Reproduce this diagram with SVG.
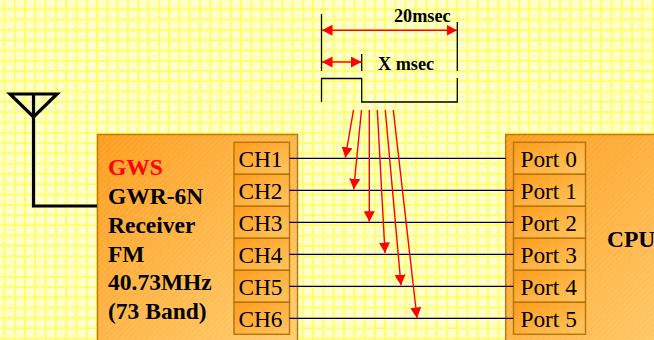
<svg xmlns="http://www.w3.org/2000/svg" width="654" height="340" viewBox="0 0 654 340">
<style>
.box{stroke:#b8780f;stroke-width:1.5}
.bold{font-family:"Liberation Serif",serif;font-weight:bold;fill:#000}
.m{font-size:23.5px}
.t{font-size:18.2px}
.cell{font-family:"Liberation Serif",serif;font-size:23.3px;fill:#000}
.wire{stroke:#000;stroke-width:1.2;fill:none}
.ant{stroke:#000;stroke-width:3.2;fill:none}
.tim{stroke:#000;stroke-width:1.3;fill:none}
.red{stroke:#f00;stroke-width:1.4;fill:none}
</style>
<defs>
<pattern id="grid" x="4.4" y="9.3" width="10.29" height="10.29" patternUnits="userSpaceOnUse">
<rect x="-1" y="-1" width="12" height="12" fill="#ffffcc"/>
<path d="M0 0V10.29M10.29 0V10.29M0 0H10.29M0 10.29H10.29" stroke="#ffff66" stroke-width="1.9" fill="none"/>
</pattern>
<linearGradient id="big" x1="0" y1="0" x2="1" y2="1">
<stop offset="0" stop-color="#ff9c1c"/><stop offset="1" stop-color="#ffcf70"/>
</linearGradient>
<linearGradient id="small" x1="0" y1="0" x2="1" y2="1">
<stop offset="0" stop-color="#ff9c1c"/><stop offset="1" stop-color="#ffc660"/>
</linearGradient>
<pattern id="hatch" width="4" height="4" patternUnits="userSpaceOnUse" patternTransform="rotate(-45)">
<rect width="4" height="1.2" fill="#ffffff" fill-opacity="0.12"/>
</pattern>
<marker id="arr" markerUnits="userSpaceOnUse" markerWidth="12" markerHeight="12" refX="10.5" refY="5.5" orient="auto-start-reverse">
<path d="M0 0L10.5 5.5L0 11Z" fill="#f00"/>
</marker>
</defs>
<rect width="654" height="340" fill="url(#grid)"/>
<g id="receiver">
<rect class="box" x="97.5" y="134.5" width="200" height="220" fill="url(#big)"/>
<rect x="97.5" y="134.5" width="200" height="220" fill="url(#hatch)"/>
<text class="bold m" x="108" y="175" style="fill:#f00">GWS</text>
<text class="bold m" x="108" y="204">GWR-6N</text>
<text class="bold m" x="108" y="233">Receiver</text>
<text class="bold m" x="108" y="261.5">FM</text>
<text class="bold m" x="108" y="290">40.73MHz</text>
<text class="bold m" x="108" y="318.5">(73 Band)</text>
</g>
<g id="cpu">
<rect class="box" x="505.7" y="134.5" width="200" height="220" fill="url(#big)"/>
<rect x="505.7" y="134.5" width="200" height="220" fill="url(#hatch)"/>
<text class="bold m" x="607" y="246.5">CPU</text>
</g>
<g id="ch1"><rect class="box" x="234" y="142.3" width="55.5" height="32" fill="url(#small)"/><text class="cell" x="238.5" y="167">CH1</text></g>
<g id="ch2"><rect class="box" x="234" y="174.3" width="55.5" height="32" fill="url(#small)"/><text class="cell" x="238.5" y="199">CH2</text></g>
<g id="ch3"><rect class="box" x="234" y="206.3" width="55.5" height="32" fill="url(#small)"/><text class="cell" x="238.5" y="231">CH3</text></g>
<g id="ch4"><rect class="box" x="234" y="238.3" width="55.5" height="32" fill="url(#small)"/><text class="cell" x="238.5" y="263">CH4</text></g>
<g id="ch5"><rect class="box" x="234" y="270.3" width="55.5" height="32" fill="url(#small)"/><text class="cell" x="238.5" y="295">CH5</text></g>
<g id="ch6"><rect class="box" x="234" y="302.3" width="55.5" height="32" fill="url(#small)"/><text class="cell" x="238.5" y="327">CH6</text></g>
<g id="port0"><rect class="box" x="513.5" y="142.3" width="72" height="32" fill="url(#small)"/><text class="cell" x="520.5" y="167">Port 0</text></g>
<g id="port1"><rect class="box" x="513.5" y="174.3" width="72" height="32" fill="url(#small)"/><text class="cell" x="520.5" y="199">Port 1</text></g>
<g id="port2"><rect class="box" x="513.5" y="206.3" width="72" height="32" fill="url(#small)"/><text class="cell" x="520.5" y="231">Port 2</text></g>
<g id="port3"><rect class="box" x="513.5" y="238.3" width="72" height="32" fill="url(#small)"/><text class="cell" x="520.5" y="263">Port 3</text></g>
<g id="port4"><rect class="box" x="513.5" y="270.3" width="72" height="32" fill="url(#small)"/><text class="cell" x="520.5" y="295">Port 4</text></g>
<g id="port5"><rect class="box" x="513.5" y="302.3" width="72" height="32" fill="url(#small)"/><text class="cell" x="520.5" y="327">Port 5</text></g>
<g id="antenna">
<path class="ant" d="M10 94H57L33.5 117L10 94ZM33.5 94V206H97"/>
</g>
<g id="timing">
<path class="tim" d="M321.5 14V71M457.3 22V71M361.7 54V71M321.5 102V78.5H361.7V102H457.3V78"/>
<text class="bold t" x="394" y="21.5">20msec</text>
<text class="bold t" x="378" y="70">X msec</text>
</g>
<g id="connectors">
<path class="wire" d="M289.5 158.3H506"/>
<path class="wire" d="M289.5 190.3H513.5"/>
<path class="wire" d="M289.5 222.3H513.5"/>
<path class="wire" d="M289.5 254.3H513.5"/>
<path class="wire" d="M289.5 286.3H513.5"/>
<path class="wire" d="M289.5 318.3H513.5"/>
<path class="red" marker-start="url(#arr)" marker-end="url(#arr)" d="M322 30.3H457"/>
<path class="red" marker-start="url(#arr)" marker-end="url(#arr)" d="M322 62H361.5"/>
<path class="red" marker-end="url(#arr)" d="M353.5 110L345.3 157.7"/>
<path class="red" marker-end="url(#arr)" d="M361.5 110L353.7 189.3"/>
<path class="red" marker-end="url(#arr)" d="M369.3 110V221.7"/>
<path class="red" marker-end="url(#arr)" d="M377.3 110L385 253"/>
<path class="red" marker-end="url(#arr)" d="M385.3 110L401 285.3"/>
<path class="red" marker-end="url(#arr)" d="M393.3 110L417 318"/>
</g>
</svg>
